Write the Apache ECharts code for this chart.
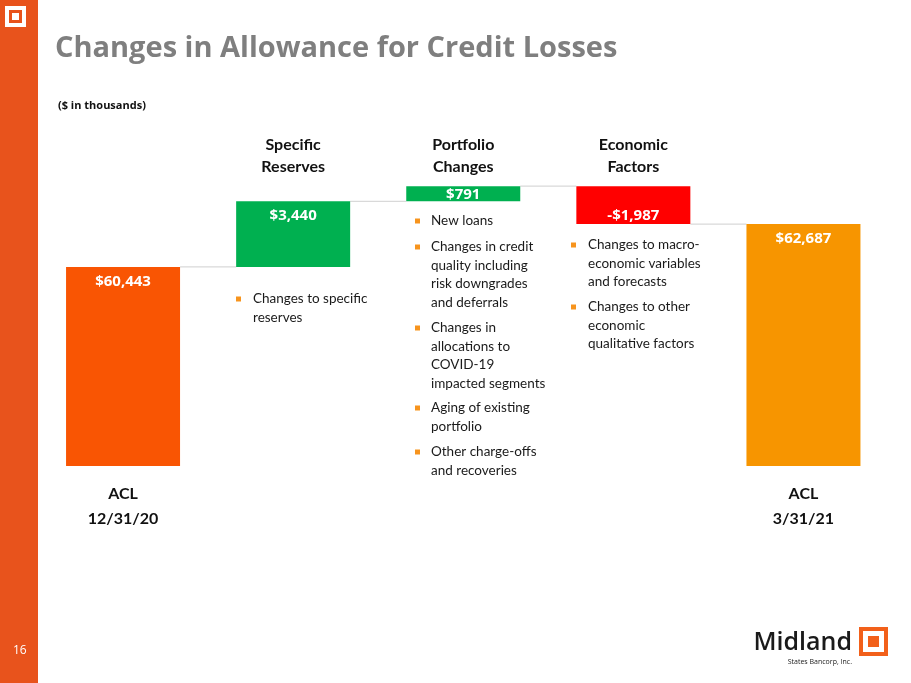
<!DOCTYPE html>
<html>
<head>
<meta charset="utf-8">
<script src="https://cdn.jsdelivr.net/npm/echarts@6/dist/echarts.min.js"></script>
<style>
  html, body { margin: 0; padding: 0; background: #fff; }
  #chart { width: 911px; height: 683px; }
</style>
</head>
<body>
<div id="chart"></div>
<script>
// data
const startValue = 60443;
const endValue = 62687;
const deltas = [3440, 791, -1987];
const bottomLabels = ['ACL\n12/31/20', '', '', '', 'ACL\n3/31/21'];
const topLabels = ['', 'Specific\nReserves', 'Portfolio\nChanges', 'Economic\nFactors', ''];
const barColors = ['#F95503', '#00B050', '#00B050', '#FF0000', '#F79500'];

const BAR_W = 114;
const FONT = 'Lato, "Open Sans", sans-serif';
const LINE_H = 18.5;

// running totals and stacked pieces
const totals = [startValue];
deltas.forEach(function (d) { totals.push(totals[totals.length - 1] + d); });
totals.push(endValue);

const base = [0];
const visible = [startValue];
const shown = [startValue];
for (let i = 0; i < deltas.length; i++) {
  const prev = totals[i];
  const next = totals[i + 1];
  base.push(Math.min(prev, next));
  visible.push(Math.abs(deltas[i]));
  shown.push(deltas[i]);
}
base.push(0);
visible.push(endValue);
shown.push(endValue);

function money(v) {
  const s = '$' + Math.abs(v).toLocaleString('en-US');
  return v < 0 ? '-' + s : s;
}

const connectors = [];
for (let i = 0; i < totals.length - 1; i++) {
  connectors.push([i, totals[i]]);
}

const bullet = function (x, y) {
  return { type: 'rect', shape: { x: x, y: y - 2.5, width: 5, height: 5 }, style: { fill: '#F7941D' } };
};
// y = centre of the first line
const note = function (x, y, text) {
  return {
    type: 'text', x: x, y: y - LINE_H / 2,
    style: { text: text, font: '13.5px ' + FONT, fill: '#1a1a1a', lineHeight: LINE_H, verticalAlign: 'top' }
  };
};

const chart = echarts.init(document.getElementById('chart'));

chart.setOption({
  backgroundColor: '#fff',
  animation: false,
  grid: { left: 38, right: 22.5, top: 180, bottom: 217 },
  xAxis: [
    {
      type: 'category', data: bottomLabels, position: 'bottom',
      axisLine: { show: false }, axisTick: { show: false },
      axisLabel: { interval: 0, margin: 15, color: '#111', fontFamily: FONT, fontWeight: 'bold', fontSize: 16, lineHeight: 25 }
    },
    {
      type: 'category', data: topLabels, position: 'top',
      axisLine: { show: false }, axisTick: { show: false },
      axisLabel: { interval: 0, margin: 2, color: '#111', fontFamily: FONT, fontWeight: 'bold', fontSize: 16, lineHeight: 22 }
    }
  ],
  yAxis: { type: 'value', min: 50000, max: 65000, show: false, splitLine: { show: false } },
  series: [
    {
      type: 'bar', stack: 'wf', barWidth: BAR_W, data: base, silent: true,
      itemStyle: { color: 'transparent' }
    },
    {
      type: 'bar', stack: 'wf', barWidth: BAR_W,
      data: visible.map(function (v, i) {
        const small = v < 1000;
        return {
          value: v,
          itemStyle: { color: barColors[i] },
          label: {
            position: shown[i] < 0 ? 'insideBottom' : 'insideTop',
            distance: shown[i] < 0 ? 1 : (small ? 1 : 7)
          }
        };
      }),
      label: {
        show: true, color: '#fff', fontFamily: '"Open Sans", sans-serif', fontWeight: 'bold', fontSize: 15,
        formatter: function (p) { return money(shown[p.dataIndex]); }
      }
    },
    {
      type: 'custom', data: connectors, silent: true, z: 1,
      renderItem: function (params, api) {
        const i = api.value(0);
        const level = api.value(1);
        const p1 = api.coord([i, level]);
        const p2 = api.coord([i + 1, level]);
        return {
          type: 'line',
          shape: { x1: p1[0] + BAR_W / 2, y1: p1[1], x2: p2[0] - BAR_W / 2, y2: p2[1] },
          style: { stroke: '#D9D9D9', lineWidth: 1.2 }
        };
      }
    }
  ],
  graphic: [
    { type: 'rect', shape: { x: 0, y: 0, width: 38, height: 683 }, style: { fill: '#E8531C' } },
    { type: 'rect', shape: { x: 5, y: 6, width: 21, height: 21 }, style: { fill: '#fff' } },
    { type: 'rect', shape: { x: 9, y: 10, width: 13, height: 13 }, style: { fill: '#E8531C' } },
    { type: 'rect', shape: { x: 12, y: 13, width: 7, height: 7 }, style: { fill: '#fff' } },
    { type: 'text', x: 13, y: 651, style: { text: '16', font: '12px "Open Sans", sans-serif', fill: '#fff', verticalAlign: 'middle' } },
    {
      type: 'text', x: 55, y: 49,
      style: { text: 'Changes in Allowance for Credit Losses', font: 'bold 29px "Open Sans", sans-serif', fill: '#7F7F7F', verticalAlign: 'middle' }
    },
    {
      type: 'text', x: 58, y: 106,
      style: { text: '($ in thousands)', font: 'bold 11px "Open Sans", sans-serif', fill: '#111', verticalAlign: 'middle' }
    },

    bullet(236, 299), note(253, 299, 'Changes to specific\nreserves'),

    bullet(415, 221), note(431, 221, 'New loans'),
    bullet(415, 247), note(431, 247, 'Changes in credit\nquality including\nrisk downgrades\nand deferrals'),
    bullet(415, 328), note(431, 328, 'Changes in\nallocations to\nCOVID-19\nimpacted segments'),
    bullet(415, 408), note(431, 408, 'Aging of existing\nportfolio'),
    bullet(415, 452), note(431, 452, 'Other charge-offs\nand recoveries'),

    bullet(571, 245), note(588, 245, 'Changes to macro-\neconomic variables\nand forecasts'),
    bullet(571, 307), note(588, 307, 'Changes to other\neconomic\nqualitative factors'),

    {
      type: 'text', x: 852, y: 643,
      style: { text: 'Midland', font: '600 25px "Open Sans", sans-serif', fill: '#1a1a1a', align: 'right', verticalAlign: 'middle' }
    },
    {
      type: 'text', x: 852, y: 662,
      style: { text: 'States Bancorp, Inc.', font: '7px "Open Sans", sans-serif', fill: '#1a1a1a', align: 'right', verticalAlign: 'middle' }
    },
    { type: 'rect', shape: { x: 859, y: 627, width: 29, height: 29 }, style: { fill: '#F2601A' } },
    { type: 'rect', shape: { x: 863, y: 631, width: 21, height: 21 }, style: { fill: '#fff' } },
    { type: 'rect', shape: { x: 868, y: 636, width: 11, height: 11 }, style: { fill: '#F2601A' } }
  ]
});
</script>
</body>
</html>
